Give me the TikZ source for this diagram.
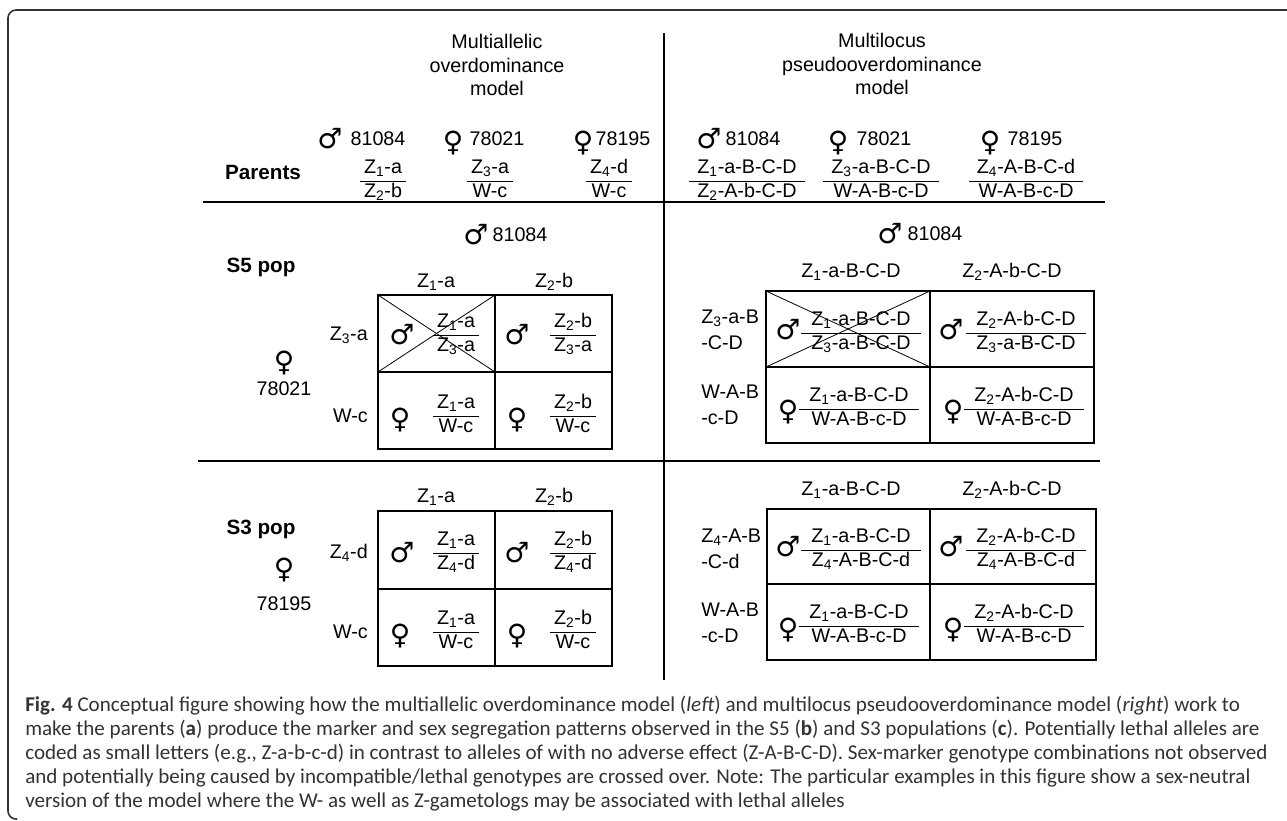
\documentclass[tikz,border=0pt]{standalone}
\usepackage{fontspec}
\setmainfont{Liberation Sans}
\newfontfamily\capfont{Carlito}
\newfontfamily\sexfont{DejaVu Sans}
\setlength\arrayrulewidth{0.6pt}
% genotype helpers
\newcommand\Zs[1]{Z\textsubscript{#1}}
\newcommand\gfr[3][3pt]{\begin{tabular}{@{\hspace{#1}}c@{\hspace{#1}}}#2\\\hline #3\end{tabular}}
\newcommand\symM{♂}
\newcommand\symF{♀}
\begin{document}
\begin{tikzpicture}[x=0.75pt,y=-0.75pt,
  frame/.style={line width=1.2pt,draw=black!80,rounded corners=6pt},
  sepline/.style={line width=1.9pt},
  divline/.style={line width=1.6pt},
  gridline/.style={line width=1.6pt},
  xline/.style={line width=0.6pt},
  txt/.style={font=\fontsize{14.8}{17}\selectfont,inner sep=0pt},
  hdr/.style={font=\fontsize{14.8}{17.6}\selectfont,align=center,inner sep=0pt},
  two/.style={font=\fontsize{14.8}{19.5}\selectfont,align=left,inner sep=0pt,anchor=west},
  frac/.style={font=\fontsize{14.8}{17.5}\selectfont,inner sep=0pt},
  bold/.style={font=\bfseries\fontsize{15.5}{18}\selectfont,inner sep=0pt},
  msym/.style={font=\sexfont\bfseries\fontsize{21}{21}\selectfont,inner sep=0pt},
  capline/.style={font=\capfont\fontsize{15.8}{18}\selectfont,anchor=base west,inner sep=0pt,text=black!80}]
\clip (0,0) rectangle (1287,820);
\fill[white] (0,0) rectangle (1287,820);

% outer frame, open on the right and at the bottom
\coordinate (fr1) at (1300,10);
\coordinate (fr2) at (8,10);
\coordinate (fr3) at (8,819);
\coordinate (fr4) at (17,819);
\draw[frame] (fr1) -- (fr2) -- (fr3) -- (fr4);

% separators
\coordinate (divT) at (664,33);
\coordinate (divB) at (664,680);
\draw[divline] (divT) -- (divB);
\coordinate (s1W) at (203,202);
\coordinate (s1E) at (1105,202);
\draw[sepline] (s1W) -- (s1E);
\coordinate (s2W) at (198,461);
\coordinate (s2E) at (1100,461);
\draw[sepline] (s2W) -- (s2E);

% column titles
\node[hdr] (hdrL) at (497,65) {Multiallelic\\overdominance\\model};
\node[hdr] (hdrR) at (882,64) {Multilocus\\pseudooverdominance\\model};

% parents, left model
\node[bold] (parents) at (263,172) {Parents};
\node[msym] (pL1s) at (330,139) {\symM};
\node[txt]  (pL1n) at (378,139) {81084};
\node[msym] (pL2s) at (453,143) {\symF};
\node[txt]  (pL2n) at (497,139) {78021};
\node[msym] (pL3s) at (583,143) {\symF};
\node[txt]  (pL3n) at (623,139) {78195};
\node[frac] (fL1) at (383,181) {\gfr{\Zs1-a}{\Zs2-b}};
\node[frac] (fL2) at (490,181) {\gfr{\Zs3-a}{W-c}};
\node[frac] (fL3) at (609,181) {\gfr{\Zs4-d}{W-c}};

% parents, right model
\node[msym] (pR1s) at (709,139) {\symM};
\node[txt]  (pR1n) at (753,139) {81084};
\node[msym] (pR2s) at (838,143) {\symF};
\node[txt]  (pR2n) at (884,139) {78021};
\node[msym] (pR3s) at (990,143) {\symF};
\node[txt]  (pR3n) at (1035,139) {78195};
\node[frac] (fR1) at (747,181) {\gfr[6pt]{\Zs1-a-B-C-D}{\Zs2-A-b-C-D}};
\node[frac] (fR2) at (881,181) {\gfr[6pt]{\Zs3-a-B-C-D}{W-A-B-c-D}};
\node[frac] (fR3) at (1026,181) {\gfr[6pt]{\Zs4-A-B-C-d}{W-A-B-c-D}};

% ---------------- S5, left model ----------------
\node[bold] (s5) at (261,267) {S5 pop};
\node[msym] (s5Lms) at (476,235) {\symM};
\node[txt]  (s5Lmn) at (520,235) {81084};
\node[msym] (s5Lfs) at (284,363) {\symF};
\node[txt]  (s5Lfn) at (284,389) {78021};
\node[txt] (s5Lc1) at (436,282) {\Zs1-a};
\node[txt] (s5Lc2) at (554,282) {\Zs2-b};
\node[txt,anchor=east] (s5Lr1) at (368,335) {\Zs3-a};
\node[txt,anchor=east] (s5Lr2) at (368,416) {W-c};
\coordinate (gA1) at (378,295); \coordinate (gA2) at (612,449);
\coordinate (gAmT) at (495,295); \coordinate (gAmB) at (495,449);
\coordinate (gAmL) at (378,372); \coordinate (gAmR) at (612,372);
\coordinate (gAx) at (495,372); \coordinate (gAy) at (378,372);
\draw[xline] (gA1) -- (gAx);
\draw[xline] (gAy) -- (gAmT);
\draw[gridline] (gA1) rectangle (gA2);
\draw[gridline] (gAmT) -- (gAmB);
\draw[gridline] (gAmL) -- (gAmR);
\node[msym] at (402,335) (a11s) {\symM};
\node[frac] at (456,335) (a11f) {\gfr{\Zs1-a}{\Zs3-a}};
\node[msym] at (517,335) (a12s) {\symM};
\node[frac] at (573,335) (a12f) {\gfr{\Zs2-b}{\Zs3-a}};
\node[msym] at (400,420) (a21s) {\symF};
\node[frac] at (456,416) (a21f) {\gfr{\Zs1-a}{W-c}};
\node[msym] at (517,420) (a22s) {\symF};
\node[frac] at (573,416) (a22f) {\gfr{\Zs2-b}{W-c}};

% ---------------- S3, left model ----------------
\node[bold] (s3) at (261,529) {S3 pop};
\node[msym] (s3Lfs) at (284,570) {\symF};
\node[txt]  (s3Lfn) at (284,604) {78195};
\node[txt] (s3Lc1) at (436,497) {\Zs1-a};
\node[txt] (s3Lc2) at (554,497) {\Zs2-b};
\node[txt,anchor=east] (s3Lr1) at (368,553) {\Zs4-d};
\node[txt,anchor=east] (s3Lr2) at (368,632) {W-c};
\coordinate (gB1) at (378,511); \coordinate (gB2) at (612,666);
\coordinate (gBmT) at (495,511); \coordinate (gBmB) at (495,666);
\coordinate (gBmL) at (378,589); \coordinate (gBmR) at (612,589);
\draw[gridline] (gB1) rectangle (gB2);
\draw[gridline] (gBmT) -- (gBmB);
\draw[gridline] (gBmL) -- (gBmR);
\node[msym] at (402,553) (b11s) {\symM};
\node[frac] at (456,553) (b11f) {\gfr{\Zs1-a}{\Zs4-d}};
\node[msym] at (517,553) (b12s) {\symM};
\node[frac] at (573,553) (b12f) {\gfr{\Zs2-b}{\Zs4-d}};
\node[msym] at (400,636) (b21s) {\symF};
\node[frac] at (456,632) (b21f) {\gfr{\Zs1-a}{W-c}};
\node[msym] at (517,636) (b22s) {\symF};
\node[frac] at (573,632) (b22f) {\gfr{\Zs2-b}{W-c}};

% ---------------- S5, right model ----------------
\node[msym] (s5Rms) at (890,234) {\symM};
\node[txt]  (s5Rmn) at (935,234) {81084};
\node[txt] (s5Rc1) at (851,272) {\Zs1-a-B-C-D};
\node[txt] (s5Rc2) at (1012,272) {\Zs2-A-b-C-D};
\node[two] (s5Rr1) at (701,330) {\Zs3-a-B\\-C-D};
\node[two] (s5Rr2) at (701,405) {W-A-B\\-c-D};
\coordinate (gC1) at (766,291); \coordinate (gC2) at (1094,443);
\coordinate (gCmT) at (930,291); \coordinate (gCmB) at (930,443);
\coordinate (gCmL) at (766,367); \coordinate (gCmR) at (1094,367);
\coordinate (gCx) at (930,367); \coordinate (gCy) at (766,367);
\draw[xline] (gC1) -- (gCx);
\draw[xline] (gCy) -- (gCmT);
\draw[gridline] (gC1) rectangle (gC2);
\draw[gridline] (gCmT) -- (gCmB);
\draw[gridline] (gCmL) -- (gCmR);
\node[msym] at (788,330) (c11s) {\symM};
\node[frac] at (861,333) (c11f) {\gfr[8pt]{\Zs1-a-B-C-D}{\Zs3-a-B-C-D}};
\node[msym] at (951,330) (c12s) {\symM};
\node[frac] at (1026,333) (c12f) {\gfr[8pt]{\Zs2-A-b-C-D}{\Zs3-a-B-C-D}};
\node[msym] at (788,412) (c21s) {\symF};
\node[frac] at (859,409) (c21f) {\gfr[8pt]{\Zs1-a-B-C-D}{W-A-B-c-D}};
\node[msym] at (953,412) (c22s) {\symF};
\node[frac] at (1024,409) (c22f) {\gfr[8pt]{\Zs2-A-b-C-D}{W-A-B-c-D}};

% ---------------- S3, right model ----------------
\node[txt] (s3Rc1) at (851,490) {\Zs1-a-B-C-D};
\node[txt] (s3Rc2) at (1012,490) {\Zs2-A-b-C-D};
\node[two] (s3Rr1) at (701,549) {\Zs4-A-B\\-C-d};
\node[two] (s3Rr2) at (701,623) {W-A-B\\-c-D};
\coordinate (gD1) at (767,509); \coordinate (gD2) at (1096,660);
\coordinate (gDmT) at (930,509); \coordinate (gDmB) at (930,660);
\coordinate (gDmL) at (767,584); \coordinate (gDmR) at (1096,584);
\draw[gridline] (gD1) rectangle (gD2);
\draw[gridline] (gDmT) -- (gDmB);
\draw[gridline] (gDmL) -- (gDmR);
\node[msym] at (788,547) (d11s) {\symM};
\node[frac] at (861,550) (d11f) {\gfr[8pt]{\Zs1-a-B-C-D}{\Zs4-A-B-C-d}};
\node[msym] at (951,547) (d12s) {\symM};
\node[frac] at (1026,550) (d12f) {\gfr[8pt]{\Zs2-A-b-C-D}{\Zs4-A-B-C-d}};
\node[msym] at (788,630) (d21s) {\symF};
\node[frac] at (859,626) (d21f) {\gfr[8pt]{\Zs1-a-B-C-D}{W-A-B-c-D}};
\node[msym] at (953,630) (d22s) {\symF};
\node[frac] at (1024,626) (d22f) {\gfr[8pt]{\Zs2-A-b-C-D}{W-A-B-c-D}};

% ---------------- caption ----------------
\node[capline] (cap1) at (25,711) {\textbf{Fig. 4} Conceptual figure showing how the multiallelic overdominance model (\textit{left}) and multilocus pseudooverdominance model (\textit{right}) work to};
\node[capline] (cap2) at (25,735) {make the parents (\textbf{a}) produce the marker and sex segregation patterns observed in the S5 (\textbf{b}) and S3 populations (\textbf{c}). Potentially lethal alleles are};
\node[capline] (cap3) at (25,759) {coded as small letters (e.g., Z-a-b-c-d) in contrast to alleles of with no adverse effect (Z-A-B-C-D). Sex-marker genotype combinations not observed};
\node[capline] (cap4) at (25,783) {and potentially being caused by incompatible/lethal genotypes are crossed over. Note: The particular examples in this figure show a sex-neutral};
\node[capline] (cap5) at (25,807) {version of the model where the W- as well as Z-gametologs may be associated with lethal alleles};
\end{tikzpicture}
\end{document}
